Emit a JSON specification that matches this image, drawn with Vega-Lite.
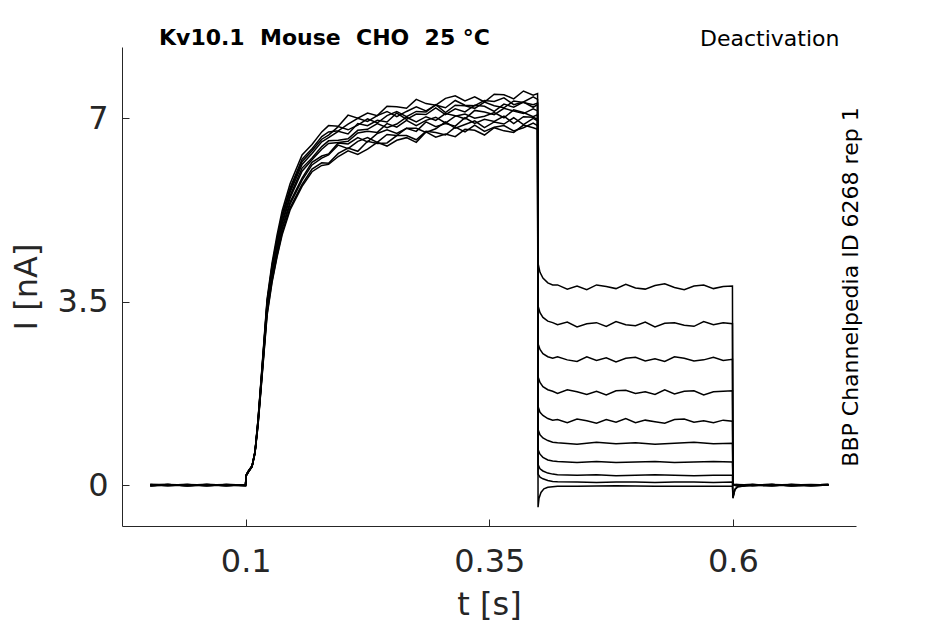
{
  "$schema": "https://vega.github.io/schema/vega-lite/v6.json",
  "width": 734,
  "height": 479,
  "autosize": {"type": "none"},
  "padding": {"left": 122, "top": 47, "right": 89, "bottom": 98},
  "background": "white",
  "title": {
    "text": "Kv10.1\u00a0 Mouse\u00a0 CHO\u00a0 25 °C",
    "anchor": "start",
    "frame": "group",
    "dx": 37,
    "offset": -40,
    "baseline": "alphabetic",
    "font": "DejaVu Sans",
    "fontSize": 22,
    "fontWeight": "bold",
    "color": "black"
  },
  "config": {
    "view": {"stroke": null},
    "axis": {
      "grid": false,
      "domainColor": "#262626",
      "tickColor": "#262626",
      "labelColor": "#262626",
      "titleColor": "#262626",
      "labelFont": "DejaVu Sans",
      "titleFont": "DejaVu Sans",
      "labelFontSize": 32,
      "titleFontSize": 32,
      "titleFontWeight": "normal",
      "tickSize": -7,
      "domainWidth": 1,
      "tickWidth": 1
    }
  },
  "datasets": {
    "sweeps": [
      {"s":1,"t":0.002,"i":0.01},{"s":1,"t":0.02,"i":-0.01},{"s":1,"t":0.04,"i":0},{"s":1,"t":0.06,"i":0.01},{"s":1,"t":0.08,"i":-0.01},{"s":1,"t":0.0998,"i":0},
      {"s":1,"t":0.1003,"i":0.18},{"s":1,"t":0.1024,"i":0.25},{"s":1,"t":0.1065,"i":0.36},{"s":1,"t":0.1095,"i":0.64},{"s":1,"t":0.1126,"i":1.25},{"s":1,"t":0.1167,"i":2.26},{"s":1,"t":0.1219,"i":3.55},{"s":1,"t":0.127,"i":4.24},{"s":1,"t":0.1321,"i":4.77},{"s":1,"t":0.1373,"i":5.23},{"s":1,"t":0.1455,"i":5.75},{"s":1,"t":0.1578,"i":6.3},{"s":1,"t":0.168,"i":6.5},{"s":1,"t":0.178,"i":6.74},
      {"s":1,"t":0.185,"i":6.86},{"s":1,"t":0.195,"i":6.85},{"s":1,"t":0.205,"i":7.06},{"s":1,"t":0.215,"i":7.0},{"s":1,"t":0.225,"i":7.1},{"s":1,"t":0.235,"i":7.05},{"s":1,"t":0.245,"i":7.23},{"s":1,"t":0.255,"i":7.22},{"s":1,"t":0.265,"i":7.19},{"s":1,"t":0.275,"i":7.36},{"s":1,"t":0.285,"i":7.28},{"s":1,"t":0.295,"i":7.25},{"s":1,"t":0.305,"i":7.38},{"s":1,"t":0.315,"i":7.43},{"s":1,"t":0.325,"i":7.33},{"s":1,"t":0.335,"i":7.41},{"s":1,"t":0.345,"i":7.31},{"s":1,"t":0.355,"i":7.46},{"s":1,"t":0.365,"i":7.45},{"s":1,"t":0.375,"i":7.37},{"s":1,"t":0.385,"i":7.52},{"s":1,"t":0.395,"i":7.44},{"s":1,"t":0.3995,"i":7.47},
      {"s":1,"t":0.4,"i":4.23},{"s":1,"t":0.402,"i":4.06},{"s":1,"t":0.405,"i":3.95},{"s":1,"t":0.41,"i":3.86},{"s":1,"t":0.415,"i":3.82},{"s":1,"t":0.42,"i":3.82},{"s":1,"t":0.43,"i":3.74},{"s":1,"t":0.44,"i":3.8},{"s":1,"t":0.45,"i":3.73},{"s":1,"t":0.46,"i":3.82},{"s":1,"t":0.47,"i":3.79},{"s":1,"t":0.48,"i":3.75},{"s":1,"t":0.49,"i":3.83},{"s":1,"t":0.5,"i":3.76},{"s":1,"t":0.51,"i":3.74},{"s":1,"t":0.52,"i":3.81},{"s":1,"t":0.53,"i":3.84},{"s":1,"t":0.54,"i":3.77},{"s":1,"t":0.55,"i":3.73},{"s":1,"t":0.56,"i":3.8},{"s":1,"t":0.57,"i":3.82},{"s":1,"t":0.58,"i":3.75},{"s":1,"t":0.59,"i":3.79},{"s":1,"t":0.5995,"i":3.8},
      {"s":1,"t":0.6,"i":0.02},{"s":1,"t":0.603,"i":0},{"s":1,"t":0.62,"i":0.01},{"s":1,"t":0.64,"i":-0.01},{"s":1,"t":0.66,"i":0},{"s":1,"t":0.68,"i":0.01},{"s":1,"t":0.698,"i":0},

      {"s":2,"t":0.002,"i":-0.01},{"s":2,"t":0.02,"i":0},{"s":2,"t":0.04,"i":0.01},{"s":2,"t":0.06,"i":-0.01},{"s":2,"t":0.08,"i":0},{"s":2,"t":0.0998,"i":0.01},
      {"s":2,"t":0.1003,"i":0.18},{"s":2,"t":0.1024,"i":0.25},{"s":2,"t":0.1065,"i":0.36},{"s":2,"t":0.1095,"i":0.62},{"s":2,"t":0.1126,"i":1.18},{"s":2,"t":0.1167,"i":2.12},{"s":2,"t":0.1219,"i":3.34},{"s":2,"t":0.127,"i":3.99},{"s":2,"t":0.1321,"i":4.48},{"s":2,"t":0.1373,"i":4.91},{"s":2,"t":0.1455,"i":5.4},{"s":2,"t":0.1578,"i":5.86},{"s":2,"t":0.168,"i":6.16},{"s":2,"t":0.178,"i":6.28},
      {"s":2,"t":0.185,"i":6.32},{"s":2,"t":0.195,"i":6.53},{"s":2,"t":0.205,"i":6.51},{"s":2,"t":0.215,"i":6.63},{"s":2,"t":0.225,"i":6.55},{"s":2,"t":0.235,"i":6.71},{"s":2,"t":0.245,"i":6.78},{"s":2,"t":0.255,"i":6.71},{"s":2,"t":0.265,"i":6.81},{"s":2,"t":0.275,"i":6.75},{"s":2,"t":0.285,"i":6.93},{"s":2,"t":0.295,"i":6.84},{"s":2,"t":0.305,"i":6.9},{"s":2,"t":0.315,"i":6.85},{"s":2,"t":0.325,"i":7.01},{"s":2,"t":0.335,"i":6.9},{"s":2,"t":0.345,"i":6.98},{"s":2,"t":0.355,"i":6.94},{"s":2,"t":0.365,"i":7.04},{"s":2,"t":0.375,"i":6.9},{"s":2,"t":0.385,"i":7.03},{"s":2,"t":0.395,"i":7.02},{"s":2,"t":0.3995,"i":6.98},
      {"s":2,"t":0.4,"i":3.42},{"s":2,"t":0.402,"i":3.29},{"s":2,"t":0.405,"i":3.2},{"s":2,"t":0.41,"i":3.13},{"s":2,"t":0.415,"i":3.1},{"s":2,"t":0.42,"i":3.06},{"s":2,"t":0.43,"i":3.11},{"s":2,"t":0.44,"i":3.02},{"s":2,"t":0.45,"i":3.08},{"s":2,"t":0.46,"i":3.1},{"s":2,"t":0.47,"i":3.03},{"s":2,"t":0.48,"i":3.12},{"s":2,"t":0.49,"i":3.06},{"s":2,"t":0.5,"i":3.04},{"s":2,"t":0.51,"i":3.11},{"s":2,"t":0.52,"i":3.02},{"s":2,"t":0.53,"i":3.09},{"s":2,"t":0.54,"i":3.1},{"s":2,"t":0.55,"i":3.05},{"s":2,"t":0.56,"i":3.03},{"s":2,"t":0.57,"i":3.12},{"s":2,"t":0.58,"i":3.06},{"s":2,"t":0.59,"i":3.1},{"s":2,"t":0.5995,"i":3.08},
      {"s":2,"t":0.6,"i":0.01},{"s":2,"t":0.603,"i":-0.01},{"s":2,"t":0.62,"i":0},{"s":2,"t":0.64,"i":0.01},{"s":2,"t":0.66,"i":-0.01},{"s":2,"t":0.68,"i":0},{"s":2,"t":0.698,"i":0.01},

      {"s":3,"t":0.002,"i":0},{"s":3,"t":0.02,"i":0.01},{"s":3,"t":0.04,"i":-0.01},{"s":3,"t":0.06,"i":0},{"s":3,"t":0.08,"i":0.01},{"s":3,"t":0.0998,"i":-0.01},
      {"s":3,"t":0.1003,"i":0.18},{"s":3,"t":0.1024,"i":0.25},{"s":3,"t":0.1065,"i":0.36},{"s":3,"t":0.1095,"i":0.63},{"s":3,"t":0.1126,"i":1.23},{"s":3,"t":0.1167,"i":2.21},{"s":3,"t":0.1219,"i":3.48},{"s":3,"t":0.127,"i":4.16},{"s":3,"t":0.1321,"i":4.67},{"s":3,"t":0.1373,"i":5.12},{"s":3,"t":0.1455,"i":5.63},{"s":3,"t":0.1578,"i":6.17},{"s":3,"t":0.168,"i":6.38},{"s":3,"t":0.178,"i":6.6},
      {"s":3,"t":0.185,"i":6.68},{"s":3,"t":0.195,"i":6.84},{"s":3,"t":0.205,"i":6.78},{"s":3,"t":0.215,"i":6.87},{"s":3,"t":0.225,"i":6.99},{"s":3,"t":0.235,"i":6.91},{"s":3,"t":0.245,"i":7.05},{"s":3,"t":0.255,"i":7.13},{"s":3,"t":0.265,"i":7.03},{"s":3,"t":0.275,"i":7.13},{"s":3,"t":0.285,"i":7.12},{"s":3,"t":0.295,"i":7.26},{"s":3,"t":0.305,"i":7.11},{"s":3,"t":0.315,"i":7.25},{"s":3,"t":0.325,"i":7.24},{"s":3,"t":0.335,"i":7.19},{"s":3,"t":0.345,"i":7.31},{"s":3,"t":0.355,"i":7.24},{"s":3,"t":0.365,"i":7.2},{"s":3,"t":0.375,"i":7.33},{"s":3,"t":0.385,"i":7.3},{"s":3,"t":0.395,"i":7.26},{"s":3,"t":0.3995,"i":7.29},
      {"s":3,"t":0.4,"i":2.7},{"s":3,"t":0.402,"i":2.59},{"s":3,"t":0.405,"i":2.51},{"s":3,"t":0.41,"i":2.45},{"s":3,"t":0.415,"i":2.42},{"s":3,"t":0.42,"i":2.45},{"s":3,"t":0.43,"i":2.39},{"s":3,"t":0.44,"i":2.36},{"s":3,"t":0.45,"i":2.45},{"s":3,"t":0.46,"i":2.38},{"s":3,"t":0.47,"i":2.43},{"s":3,"t":0.48,"i":2.35},{"s":3,"t":0.49,"i":2.42},{"s":3,"t":0.5,"i":2.44},{"s":3,"t":0.51,"i":2.37},{"s":3,"t":0.52,"i":2.41},{"s":3,"t":0.53,"i":2.36},{"s":3,"t":0.54,"i":2.45},{"s":3,"t":0.55,"i":2.42},{"s":3,"t":0.56,"i":2.37},{"s":3,"t":0.57,"i":2.39},{"s":3,"t":0.58,"i":2.44},{"s":3,"t":0.59,"i":2.38},{"s":3,"t":0.5995,"i":2.4},
      {"s":3,"t":0.6,"i":0},{"s":3,"t":0.603,"i":0.01},{"s":3,"t":0.62,"i":-0.01},{"s":3,"t":0.64,"i":0},{"s":3,"t":0.66,"i":0.01},{"s":3,"t":0.68,"i":-0.01},{"s":3,"t":0.698,"i":0},

      {"s":4,"t":0.002,"i":0.01},{"s":4,"t":0.02,"i":0},{"s":4,"t":0.04,"i":-0.01},{"s":4,"t":0.06,"i":0.01},{"s":4,"t":0.08,"i":0},{"s":4,"t":0.0998,"i":-0.01},
      {"s":4,"t":0.1003,"i":0.17},{"s":4,"t":0.1024,"i":0.24},{"s":4,"t":0.1065,"i":0.35},{"s":4,"t":0.1095,"i":0.61},{"s":4,"t":0.1126,"i":1.15},{"s":4,"t":0.1167,"i":2.08},{"s":4,"t":0.1219,"i":3.27},{"s":4,"t":0.127,"i":3.9},{"s":4,"t":0.1321,"i":4.38},{"s":4,"t":0.1373,"i":4.81},{"s":4,"t":0.1455,"i":5.29},{"s":4,"t":0.1578,"i":5.74},{"s":4,"t":0.168,"i":6.03},{"s":4,"t":0.178,"i":6.15},
      {"s":4,"t":0.185,"i":6.14},{"s":4,"t":0.195,"i":6.33},{"s":4,"t":0.205,"i":6.43},{"s":4,"t":0.215,"i":6.37},{"s":4,"t":0.225,"i":6.56},{"s":4,"t":0.235,"i":6.52},{"s":4,"t":0.245,"i":6.53},{"s":4,"t":0.255,"i":6.67},{"s":4,"t":0.265,"i":6.67},{"s":4,"t":0.275,"i":6.59},{"s":4,"t":0.285,"i":6.75},{"s":4,"t":0.295,"i":6.73},{"s":4,"t":0.305,"i":6.68},{"s":4,"t":0.315,"i":6.83},{"s":4,"t":0.325,"i":6.74},{"s":4,"t":0.335,"i":6.87},{"s":4,"t":0.345,"i":6.75},{"s":4,"t":0.355,"i":6.83},{"s":4,"t":0.365,"i":6.86},{"s":4,"t":0.375,"i":6.76},{"s":4,"t":0.385,"i":6.82},{"s":4,"t":0.395,"i":6.91},{"s":4,"t":0.3995,"i":6.86},
      {"s":4,"t":0.4,"i":2.07},{"s":4,"t":0.402,"i":1.96},{"s":4,"t":0.405,"i":1.88},{"s":4,"t":0.41,"i":1.82},{"s":4,"t":0.415,"i":1.79},{"s":4,"t":0.42,"i":1.75},{"s":4,"t":0.43,"i":1.82},{"s":4,"t":0.44,"i":1.78},{"s":4,"t":0.45,"i":1.73},{"s":4,"t":0.46,"i":1.79},{"s":4,"t":0.47,"i":1.72},{"s":4,"t":0.48,"i":1.8},{"s":4,"t":0.49,"i":1.81},{"s":4,"t":0.5,"i":1.75},{"s":4,"t":0.51,"i":1.78},{"s":4,"t":0.52,"i":1.73},{"s":4,"t":0.53,"i":1.82},{"s":4,"t":0.54,"i":1.74},{"s":4,"t":0.55,"i":1.79},{"s":4,"t":0.56,"i":1.8},{"s":4,"t":0.57,"i":1.72},{"s":4,"t":0.58,"i":1.78},{"s":4,"t":0.59,"i":1.79},{"s":4,"t":0.5995,"i":1.8},
      {"s":4,"t":0.6,"i":0.01},{"s":4,"t":0.603,"i":0},{"s":4,"t":0.62,"i":0.01},{"s":4,"t":0.64,"i":0},{"s":4,"t":0.66,"i":-0.01},{"s":4,"t":0.68,"i":0},{"s":4,"t":0.698,"i":0.01},

      {"s":5,"t":0.002,"i":-0.01},{"s":5,"t":0.02,"i":0.01},{"s":5,"t":0.04,"i":0},{"s":5,"t":0.06,"i":-0.01},{"s":5,"t":0.08,"i":0.01},{"s":5,"t":0.0998,"i":0},
      {"s":5,"t":0.1003,"i":0.18},{"s":5,"t":0.1024,"i":0.26},{"s":5,"t":0.1065,"i":0.37},{"s":5,"t":0.1095,"i":0.64},{"s":5,"t":0.1126,"i":1.2},{"s":5,"t":0.1167,"i":2.17},{"s":5,"t":0.1219,"i":3.41},{"s":5,"t":0.127,"i":4.07},{"s":5,"t":0.1321,"i":4.57},{"s":5,"t":0.1373,"i":5.02},{"s":5,"t":0.1455,"i":5.52},{"s":5,"t":0.1578,"i":6.05},{"s":5,"t":0.168,"i":6.24},{"s":5,"t":0.178,"i":6.46},
      {"s":5,"t":0.185,"i":6.57},{"s":5,"t":0.195,"i":6.58},{"s":5,"t":0.205,"i":6.61},{"s":5,"t":0.215,"i":6.77},{"s":5,"t":0.225,"i":6.79},{"s":5,"t":0.235,"i":6.9},{"s":5,"t":0.245,"i":6.82},{"s":5,"t":0.255,"i":6.89},{"s":5,"t":0.265,"i":7.02},{"s":5,"t":0.275,"i":6.93},{"s":5,"t":0.285,"i":7.03},{"s":5,"t":0.295,"i":6.96},{"s":5,"t":0.305,"i":7.09},{"s":5,"t":0.315,"i":7.05},{"s":5,"t":0.325,"i":6.99},{"s":5,"t":0.335,"i":7.15},{"s":5,"t":0.345,"i":7.12},{"s":5,"t":0.355,"i":7.07},{"s":5,"t":0.365,"i":7.19},{"s":5,"t":0.375,"i":7.14},{"s":5,"t":0.385,"i":7.09},{"s":5,"t":0.395,"i":7.18},{"s":5,"t":0.3995,"i":7.14},
      {"s":5,"t":0.4,"i":1.5},{"s":5,"t":0.402,"i":1.39},{"s":5,"t":0.405,"i":1.33},{"s":5,"t":0.41,"i":1.27},{"s":5,"t":0.415,"i":1.24},{"s":5,"t":0.42,"i":1.25},{"s":5,"t":0.43,"i":1.19},{"s":5,"t":0.44,"i":1.26},{"s":5,"t":0.45,"i":1.23},{"s":5,"t":0.46,"i":1.18},{"s":5,"t":0.47,"i":1.25},{"s":5,"t":0.48,"i":1.2},{"s":5,"t":0.49,"i":1.27},{"s":5,"t":0.5,"i":1.19},{"s":5,"t":0.51,"i":1.24},{"s":5,"t":0.52,"i":1.21},{"s":5,"t":0.53,"i":1.18},{"s":5,"t":0.54,"i":1.25},{"s":5,"t":0.55,"i":1.26},{"s":5,"t":0.56,"i":1.2},{"s":5,"t":0.57,"i":1.23},{"s":5,"t":0.58,"i":1.19},{"s":5,"t":0.59,"i":1.24},{"s":5,"t":0.5995,"i":1.22},
      {"s":5,"t":0.6,"i":0.02},{"s":5,"t":0.603,"i":0},{"s":5,"t":0.62,"i":-0.01},{"s":5,"t":0.64,"i":0.01},{"s":5,"t":0.66,"i":0},{"s":5,"t":0.68,"i":-0.01},{"s":5,"t":0.698,"i":0},

      {"s":6,"t":0.002,"i":0},{"s":6,"t":0.02,"i":-0.01},{"s":6,"t":0.04,"i":0.01},{"s":6,"t":0.06,"i":0},{"s":6,"t":0.08,"i":-0.01},{"s":6,"t":0.0998,"i":0.01},
      {"s":6,"t":0.1003,"i":0.18},{"s":6,"t":0.1024,"i":0.25},{"s":6,"t":0.1065,"i":0.36},{"s":6,"t":0.1095,"i":0.62},{"s":6,"t":0.1126,"i":1.17},{"s":6,"t":0.1167,"i":2.11},{"s":6,"t":0.1219,"i":3.32},{"s":6,"t":0.127,"i":3.96},{"s":6,"t":0.1321,"i":4.45},{"s":6,"t":0.1373,"i":4.88},{"s":6,"t":0.1455,"i":5.36},{"s":6,"t":0.1578,"i":5.82},{"s":6,"t":0.168,"i":6.11},{"s":6,"t":0.178,"i":6.24},
      {"s":6,"t":0.185,"i":6.3},{"s":6,"t":0.195,"i":6.49},{"s":6,"t":0.205,"i":6.42},{"s":6,"t":0.215,"i":6.56},{"s":6,"t":0.225,"i":6.63},{"s":6,"t":0.235,"i":6.54},{"s":6,"t":0.245,"i":6.69},{"s":6,"t":0.255,"i":6.67},{"s":6,"t":0.265,"i":6.81},{"s":6,"t":0.275,"i":6.81},{"s":6,"t":0.285,"i":6.73},{"s":6,"t":0.295,"i":6.8},{"s":6,"t":0.305,"i":6.93},{"s":6,"t":0.315,"i":6.81},{"s":6,"t":0.325,"i":6.88},{"s":6,"t":0.335,"i":6.95},{"s":6,"t":0.345,"i":6.82},{"s":6,"t":0.355,"i":6.93},{"s":6,"t":0.365,"i":6.89},{"s":6,"t":0.375,"i":7.01},{"s":6,"t":0.385,"i":6.88},{"s":6,"t":0.395,"i":7.0},{"s":6,"t":0.3995,"i":6.95},
      {"s":6,"t":0.4,"i":1.06},{"s":6,"t":0.402,"i":0.96},{"s":6,"t":0.405,"i":0.9},{"s":6,"t":0.41,"i":0.85},{"s":6,"t":0.415,"i":0.82},{"s":6,"t":0.42,"i":0.81},{"s":6,"t":0.44,"i":0.78},{"s":6,"t":0.46,"i":0.82},{"s":6,"t":0.48,"i":0.79},{"s":6,"t":0.5,"i":0.81},{"s":6,"t":0.52,"i":0.78},{"s":6,"t":0.54,"i":0.8},{"s":6,"t":0.56,"i":0.82},{"s":6,"t":0.58,"i":0.79},{"s":6,"t":0.5995,"i":0.8},
      {"s":6,"t":0.6,"i":0.01},{"s":6,"t":0.603,"i":0},{"s":6,"t":0.62,"i":0},{"s":6,"t":0.64,"i":-0.01},{"s":6,"t":0.66,"i":0.01},{"s":6,"t":0.68,"i":0},{"s":6,"t":0.698,"i":0},

      {"s":7,"t":0.002,"i":0.01},{"s":7,"t":0.02,"i":0.01},{"s":7,"t":0.04,"i":-0.01},{"s":7,"t":0.06,"i":0},{"s":7,"t":0.08,"i":0},{"s":7,"t":0.0998,"i":-0.01},
      {"s":7,"t":0.1003,"i":0.18},{"s":7,"t":0.1024,"i":0.25},{"s":7,"t":0.1065,"i":0.36},{"s":7,"t":0.1095,"i":0.63},{"s":7,"t":0.1126,"i":1.22},{"s":7,"t":0.1167,"i":2.2},{"s":7,"t":0.1219,"i":3.46},{"s":7,"t":0.127,"i":4.13},{"s":7,"t":0.1321,"i":4.64},{"s":7,"t":0.1373,"i":5.09},{"s":7,"t":0.1455,"i":5.59},{"s":7,"t":0.1578,"i":6.12},{"s":7,"t":0.168,"i":6.33},{"s":7,"t":0.178,"i":6.55},
      {"s":7,"t":0.185,"i":6.63},{"s":7,"t":0.195,"i":6.75},{"s":7,"t":0.205,"i":6.7},{"s":7,"t":0.215,"i":6.9},{"s":7,"t":0.225,"i":6.86},{"s":7,"t":0.235,"i":6.96},{"s":7,"t":0.245,"i":6.93},{"s":7,"t":0.255,"i":7.1},{"s":7,"t":0.265,"i":6.98},{"s":7,"t":0.275,"i":7.08},{"s":7,"t":0.285,"i":7.07},{"s":7,"t":0.295,"i":7.2},{"s":7,"t":0.305,"i":7.07},{"s":7,"t":0.315,"i":7.18},{"s":7,"t":0.325,"i":7.12},{"s":7,"t":0.335,"i":7.25},{"s":7,"t":0.345,"i":7.23},{"s":7,"t":0.355,"i":7.13},{"s":7,"t":0.365,"i":7.27},{"s":7,"t":0.375,"i":7.21},{"s":7,"t":0.385,"i":7.31},{"s":7,"t":0.395,"i":7.21},{"s":7,"t":0.3995,"i":7.26},
      {"s":7,"t":0.4,"i":0.68},{"s":7,"t":0.402,"i":0.59},{"s":7,"t":0.405,"i":0.53},{"s":7,"t":0.41,"i":0.48},{"s":7,"t":0.415,"i":0.46},{"s":7,"t":0.42,"i":0.45},{"s":7,"t":0.44,"i":0.43},{"s":7,"t":0.46,"i":0.45},{"s":7,"t":0.48,"i":0.43},{"s":7,"t":0.5,"i":0.44},{"s":7,"t":0.52,"i":0.45},{"s":7,"t":0.54,"i":0.43},{"s":7,"t":0.56,"i":0.44},{"s":7,"t":0.58,"i":0.45},{"s":7,"t":0.5995,"i":0.44},
      {"s":7,"t":0.6,"i":0},{"s":7,"t":0.603,"i":0.01},{"s":7,"t":0.62,"i":0},{"s":7,"t":0.64,"i":0.01},{"s":7,"t":0.66,"i":-0.01},{"s":7,"t":0.68,"i":0},{"s":7,"t":0.698,"i":0.01},

      {"s":8,"t":0.002,"i":-0.01},{"s":8,"t":0.02,"i":0},{"s":8,"t":0.04,"i":0},{"s":8,"t":0.06,"i":0.01},{"s":8,"t":0.08,"i":-0.01},{"s":8,"t":0.0998,"i":0.01},
      {"s":8,"t":0.1003,"i":0.17},{"s":8,"t":0.1024,"i":0.24},{"s":8,"t":0.1065,"i":0.35},{"s":8,"t":0.1095,"i":0.61},{"s":8,"t":0.1126,"i":1.14},{"s":8,"t":0.1167,"i":2.06},{"s":8,"t":0.1219,"i":3.24},{"s":8,"t":0.127,"i":3.87},{"s":8,"t":0.1321,"i":4.35},{"s":8,"t":0.1373,"i":4.77},{"s":8,"t":0.1455,"i":5.25},{"s":8,"t":0.1578,"i":5.7},{"s":8,"t":0.168,"i":5.98},{"s":8,"t":0.178,"i":6.1},
      {"s":8,"t":0.185,"i":6.12},{"s":8,"t":0.195,"i":6.27},{"s":8,"t":0.205,"i":6.38},{"s":8,"t":0.215,"i":6.31},{"s":8,"t":0.225,"i":6.41},{"s":8,"t":0.235,"i":6.54},{"s":8,"t":0.245,"i":6.47},{"s":8,"t":0.255,"i":6.58},{"s":8,"t":0.265,"i":6.63},{"s":8,"t":0.275,"i":6.54},{"s":8,"t":0.285,"i":6.74},{"s":8,"t":0.295,"i":6.64},{"s":8,"t":0.305,"i":6.7},{"s":8,"t":0.315,"i":6.65},{"s":8,"t":0.325,"i":6.79},{"s":8,"t":0.335,"i":6.77},{"s":8,"t":0.345,"i":6.68},{"s":8,"t":0.355,"i":6.82},{"s":8,"t":0.365,"i":6.76},{"s":8,"t":0.375,"i":6.73},{"s":8,"t":0.385,"i":6.87},{"s":8,"t":0.395,"i":6.82},{"s":8,"t":0.3995,"i":6.79},
      {"s":8,"t":0.4,"i":0.39},{"s":8,"t":0.402,"i":0.31},{"s":8,"t":0.405,"i":0.27},{"s":8,"t":0.41,"i":0.23},{"s":8,"t":0.415,"i":0.21},{"s":8,"t":0.42,"i":0.2},{"s":8,"t":0.44,"i":0.19},{"s":8,"t":0.46,"i":0.2},{"s":8,"t":0.48,"i":0.18},{"s":8,"t":0.5,"i":0.19},{"s":8,"t":0.52,"i":0.2},{"s":8,"t":0.54,"i":0.19},{"s":8,"t":0.56,"i":0.18},{"s":8,"t":0.58,"i":0.19},{"s":8,"t":0.5995,"i":0.19},
      {"s":8,"t":0.6,"i":-0.25},{"s":8,"t":0.602,"i":-0.09},{"s":8,"t":0.605,"i":-0.03},{"s":8,"t":0.62,"i":0},{"s":8,"t":0.64,"i":0.01},{"s":8,"t":0.66,"i":-0.01},{"s":8,"t":0.68,"i":0},{"s":8,"t":0.698,"i":0.01},

      {"s":9,"t":0.002,"i":0},{"s":9,"t":0.02,"i":0},{"s":9,"t":0.04,"i":0.01},{"s":9,"t":0.06,"i":-0.01},{"s":9,"t":0.08,"i":0.01},{"s":9,"t":0.0998,"i":0},
      {"s":9,"t":0.1003,"i":0.18},{"s":9,"t":0.1024,"i":0.25},{"s":9,"t":0.1065,"i":0.36},{"s":9,"t":0.1095,"i":0.63},{"s":9,"t":0.1126,"i":1.2},{"s":9,"t":0.1167,"i":2.15},{"s":9,"t":0.1219,"i":3.39},{"s":9,"t":0.127,"i":4.04},{"s":9,"t":0.1321,"i":4.54},{"s":9,"t":0.1373,"i":4.98},{"s":9,"t":0.1455,"i":5.48},{"s":9,"t":0.1578,"i":5.99},{"s":9,"t":0.168,"i":6.21},{"s":9,"t":0.178,"i":6.41},
      {"s":9,"t":0.185,"i":6.52},{"s":9,"t":0.195,"i":6.54},{"s":9,"t":0.205,"i":6.56},{"s":9,"t":0.215,"i":6.72},{"s":9,"t":0.225,"i":6.75},{"s":9,"t":0.235,"i":6.73},{"s":9,"t":0.245,"i":6.9},{"s":9,"t":0.255,"i":6.83},{"s":9,"t":0.265,"i":6.96},{"s":9,"t":0.275,"i":6.86},{"s":9,"t":0.285,"i":6.96},{"s":9,"t":0.295,"i":7.02},{"s":9,"t":0.305,"i":6.91},{"s":9,"t":0.315,"i":7.04},{"s":9,"t":0.325,"i":7.08},{"s":9,"t":0.335,"i":7.0},{"s":9,"t":0.345,"i":7.04},{"s":9,"t":0.355,"i":7.11},{"s":9,"t":0.365,"i":7.01},{"s":9,"t":0.375,"i":7.16},{"s":9,"t":0.385,"i":7.11},{"s":9,"t":0.395,"i":7.03},{"s":9,"t":0.3995,"i":7.07},
      {"s":9,"t":0.4,"i":0.21},{"s":9,"t":0.402,"i":0.15},{"s":9,"t":0.405,"i":0.12},{"s":9,"t":0.41,"i":0.09},{"s":9,"t":0.415,"i":0.07},{"s":9,"t":0.42,"i":0.065},{"s":9,"t":0.44,"i":0.06},{"s":9,"t":0.46,"i":0.05},{"s":9,"t":0.48,"i":0.06},{"s":9,"t":0.5,"i":0.06},{"s":9,"t":0.52,"i":0.05},{"s":9,"t":0.54,"i":0.06},{"s":9,"t":0.56,"i":0.06},{"s":9,"t":0.58,"i":0.05},{"s":9,"t":0.5995,"i":0.06},
      {"s":9,"t":0.6,"i":-0.22},{"s":9,"t":0.602,"i":-0.08},{"s":9,"t":0.605,"i":-0.02},{"s":9,"t":0.62,"i":0.01},{"s":9,"t":0.64,"i":0},{"s":9,"t":0.66,"i":0},{"s":9,"t":0.68,"i":-0.01},{"s":9,"t":0.698,"i":0},

      {"s":10,"t":0.002,"i":-0.01},{"s":10,"t":0.02,"i":0.01},{"s":10,"t":0.04,"i":-0.01},{"s":10,"t":0.06,"i":0.01},{"s":10,"t":0.08,"i":0},{"s":10,"t":0.0998,"i":0},
      {"s":10,"t":0.1003,"i":0.19},{"s":10,"t":0.1024,"i":0.26},{"s":10,"t":0.1065,"i":0.37},{"s":10,"t":0.1095,"i":0.65},{"s":10,"t":0.1126,"i":1.24},{"s":10,"t":0.1167,"i":2.23},{"s":10,"t":0.1219,"i":3.51},{"s":10,"t":0.127,"i":4.19},{"s":10,"t":0.1321,"i":4.7},{"s":10,"t":0.1373,"i":5.16},{"s":10,"t":0.1455,"i":5.67},{"s":10,"t":0.1578,"i":6.22},{"s":10,"t":0.168,"i":6.42},{"s":10,"t":0.178,"i":6.65},
      {"s":10,"t":0.185,"i":6.74},{"s":10,"t":0.195,"i":6.76},{"s":10,"t":0.205,"i":6.89},{"s":10,"t":0.215,"i":7.0},{"s":10,"t":0.225,"i":6.94},{"s":10,"t":0.235,"i":7.05},{"s":10,"t":0.245,"i":7.13},{"s":10,"t":0.255,"i":7.03},{"s":10,"t":0.265,"i":7.13},{"s":10,"t":0.275,"i":7.22},{"s":10,"t":0.285,"i":7.14},{"s":10,"t":0.295,"i":7.25},{"s":10,"t":0.305,"i":7.2},{"s":10,"t":0.315,"i":7.34},{"s":10,"t":0.325,"i":7.25},{"s":10,"t":0.335,"i":7.24},{"s":10,"t":0.345,"i":7.34},{"s":10,"t":0.355,"i":7.32},{"s":10,"t":0.365,"i":7.39},{"s":10,"t":0.375,"i":7.26},{"s":10,"t":0.385,"i":7.31},{"s":10,"t":0.395,"i":7.41},{"s":10,"t":0.3995,"i":7.36},
      {"s":10,"t":0.4,"i":-0.42},{"s":10,"t":0.401,"i":-0.25},{"s":10,"t":0.403,"i":-0.14},{"s":10,"t":0.406,"i":-0.07},{"s":10,"t":0.41,"i":-0.04},{"s":10,"t":0.42,"i":-0.02},{"s":10,"t":0.44,"i":-0.02},{"s":10,"t":0.48,"i":-0.01},{"s":10,"t":0.52,"i":-0.02},{"s":10,"t":0.56,"i":-0.02},{"s":10,"t":0.5995,"i":-0.02},
      {"s":10,"t":0.6,"i":-0.24},{"s":10,"t":0.602,"i":-0.08},{"s":10,"t":0.605,"i":-0.03},{"s":10,"t":0.62,"i":0},{"s":10,"t":0.64,"i":-0.01},{"s":10,"t":0.66,"i":0.01},{"s":10,"t":0.68,"i":0},{"s":10,"t":0.698,"i":0}
    ]
  },
  "layer": [
    {
      "data": {"name": "sweeps"},
      "transform": [{"filter": "datum.s <= 5"}],
      "mark": {"type": "line", "color": "black", "strokeWidth": 1.5},
      "encoding": {
        "x": {
          "field": "t",
          "type": "quantitative",
          "scale": {"domain": [-0.027, 0.7263], "nice": false, "zero": false},
          "axis": {"orient": "bottom", "title": "t [s]", "values": [0.1, 0.35, 0.6], "format": ".3~g", "labelPadding": 27, "titlePadding": 12}
        },
        "y": {
          "field": "i",
          "type": "quantitative",
          "scale": {"domain": [-0.78, 8.36], "nice": false, "zero": false},
          "axis": {"orient": "left", "title": "I [nA]", "values": [0, 3.5, 7], "format": ".3~g", "labelPadding": 21, "titlePadding": 14}
        },
        "detail": {"field": "s", "type": "nominal"}
      }
    },
    {
      "data": {"name": "sweeps"},
      "transform": [{"filter": "datum.s > 5"}],
      "mark": {"type": "line", "color": "black", "strokeWidth": 1.5},
      "encoding": {
        "x": {
          "field": "t",
          "type": "quantitative",
          "scale": {"domain": [-0.027, 0.7263], "nice": false, "zero": false},
          "axis": {"orient": "top", "title": "Deactivation", "domain": false, "ticks": false, "labels": false, "titleFontSize": 22, "titleColor": "black", "titleAnchor": "end", "titleAlign": "right", "titleX": 717, "titleBaseline": "alphabetic", "titlePadding": 2}
        },
        "y": {
          "field": "i",
          "type": "quantitative",
          "scale": {"domain": [-0.78, 8.36], "nice": false, "zero": false},
          "axis": {"orient": "right", "title": "BBP Channelpedia ID 6268 rep 1", "domain": false, "ticks": false, "labels": false, "titleFontSize": 22, "titleColor": "black", "titleAngle": 270, "titleBaseline": "middle", "titlePadding": -6}
        },
        "detail": {"field": "s", "type": "nominal"}
      }
    }
  ],
  "resolve": {"axis": {"x": "independent", "y": "independent"}}
}
